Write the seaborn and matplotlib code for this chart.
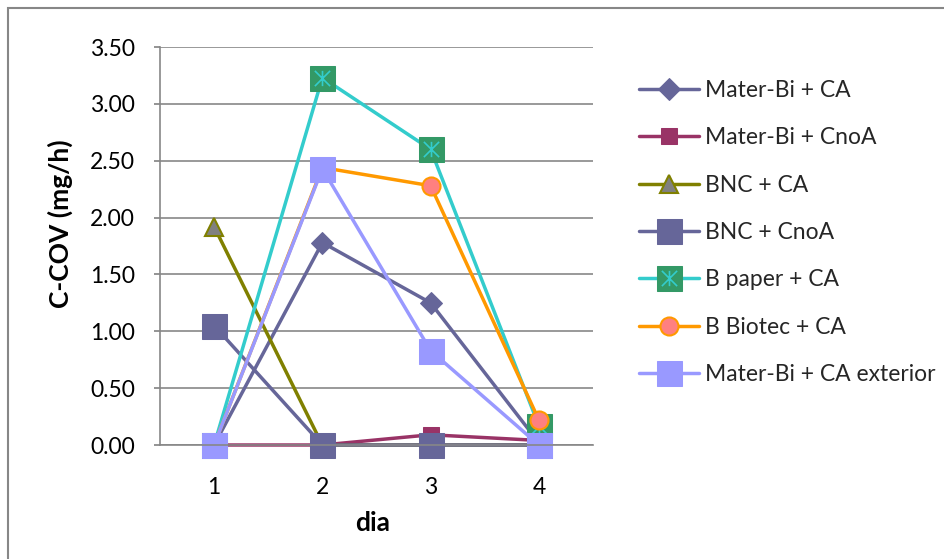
import matplotlib
matplotlib.use("Agg")
import matplotlib.pyplot as plt
from matplotlib.path import Path
from matplotlib.patches import Rectangle
import seaborn as sns
import pandas as pd

days = [1, 2, 3, 4]
day_labels = ["1", "2", "3", "4"]
y_ticks = [0.0, 0.5, 1.0, 1.5, 2.0, 2.5, 3.0, 3.5]

series_names = [
    "Mater-Bi + CA",
    "Mater-Bi + CnoA",
    "BNC + CA",
    "BNC + CnoA",
    "B paper + CA",
    "B Biotec + CA",
    "Mater-Bi + CA exterior",
]
materbi_ca = [0.00, 1.78, 1.25, 0.02]
materbi_cnoa = [0.00, 0.00, 0.09, 0.04]
bnc_ca = [1.92, 0.00, 0.00, 0.00]
bnc_cnoa = [1.05, 0.00, 0.00, 0.00]
bpaper_ca = [0.00, 3.23, 2.60, 0.17]
bbiotec_ca = [0.00, 2.44, 2.28, 0.22]
materbi_ca_ext = [0.00, 2.43, 0.83, 0.00]
series_values = [materbi_ca, materbi_cnoa, bnc_ca, bnc_cnoa,
                 bpaper_ca, bbiotec_ca, materbi_ca_ext]

# asterisk drawn inside the green square marker
star_path = Path(
    [(-1, -1), (1, 1), (-1, 1), (1, -1), (0, -1), (0, 1)],
    [Path.MOVETO, Path.LINETO, Path.MOVETO, Path.LINETO, Path.MOVETO, Path.LINETO],
)

styles = [
    dict(color="#666699", marker="D", markersize=11, markerfacecolor="#666699", markeredgecolor="#666699"),
    dict(color="#993366", marker="s", markersize=12, markerfacecolor="#993366", markeredgecolor="#993366"),
    dict(color="#808000", marker="^", markersize=13, markerfacecolor="#808080", markeredgecolor="#808000", markeredgewidth=1.5),
    dict(color="#666699", marker="s", markersize=18, markerfacecolor="#666699", markeredgecolor="#666699"),
    dict(color="#33CCCC", marker="s", markersize=18, markerfacecolor="#339966", markeredgecolor="#339966"),
    dict(color="#FF9900", marker="o", markersize=13, markerfacecolor="#FF8080", markeredgecolor="#FF9900", markeredgewidth=1.5),
    dict(color="#9999FF", marker="s", markersize=18, markerfacecolor="#9999FF", markeredgecolor="#9999FF"),
]

sns.set_theme(style="white")
plt.rcParams["font.family"] = ["Lato", "DejaVu Sans"]

fig = plt.figure(figsize=(9.45, 5.59), dpi=100)
ax = fig.add_axes([160 / 945, 1 - 445 / 559, 433 / 945, 398 / 559])

handles = []
for name, vals, st in zip(series_names, series_values, styles):
    df = pd.DataFrame({"dia": days, "val": vals})
    sns.lineplot(data=df, x="dia", y="val", ax=ax, linewidth=2.5, clip_on=False,
                 legend=False, **st)
    line = ax.get_lines()[-1]
    if name == "B paper + CA":
        sns.lineplot(data=df, x="dia", y="val", ax=ax, linestyle="none", marker=star_path,
                     markersize=11, markeredgecolor="#33CCCC", markerfacecolor="none",
                     markeredgewidth=1.2, color="#33CCCC", clip_on=False, legend=False)
        handles.append((line, ax.get_lines()[-1]))
    else:
        handles.append(line)

ax.set_xlim(0.5, 4.5)
ax.set_ylim(0, 3.5)
ax.set_xticks(days)
ax.set_xticklabels(day_labels)
ax.set_yticks(y_ticks)
ax.set_yticklabels([f"{v:.2f}" for v in y_ticks])
ax.yaxis.grid(True, color="#878787", linewidth=1.2)
ax.xaxis.grid(False)
ax.set_axisbelow(True)
for side in ["top", "right"]:
    ax.spines[side].set_visible(False)
for side in ["left", "bottom"]:
    ax.spines[side].set_color("#878787")
    ax.spines[side].set_linewidth(1.2)
ax.tick_params(axis="y", which="major", left=True, length=4, color="#878787", pad=14, labelsize=16.5, labelcolor="black")
ax.tick_params(axis="x", which="major", bottom=False, length=0, pad=23, labelsize=16.5, labelcolor="black")

ax.set_xlabel("dia", fontsize=19, fontweight="bold", color="black")
ax.set_ylabel("C-COV (mg/h)", fontsize=19, fontweight="bold", color="black")
ax.yaxis.set_label_coords(-0.201, 0.555)
ax.xaxis.set_label_coords(0.49, -0.165)

fig.legend(handles, series_names, loc="upper left", bbox_to_anchor=(639 / 945, 1 - 80 / 559),
           frameon=False, fontsize=16.5, handlelength=2.6, handletextpad=0.27,
           labelspacing=1.15, borderpad=0, borderaxespad=0)

# outer chart-area frame
fig.patches.append(Rectangle((8 / 945, -0.1), 1.2, 1 - 8 / 559 + 0.1, transform=fig.transFigure,
                             fill=False, edgecolor="#878787", linewidth=1.5))

fig.savefig("out.png", dpi=100)
